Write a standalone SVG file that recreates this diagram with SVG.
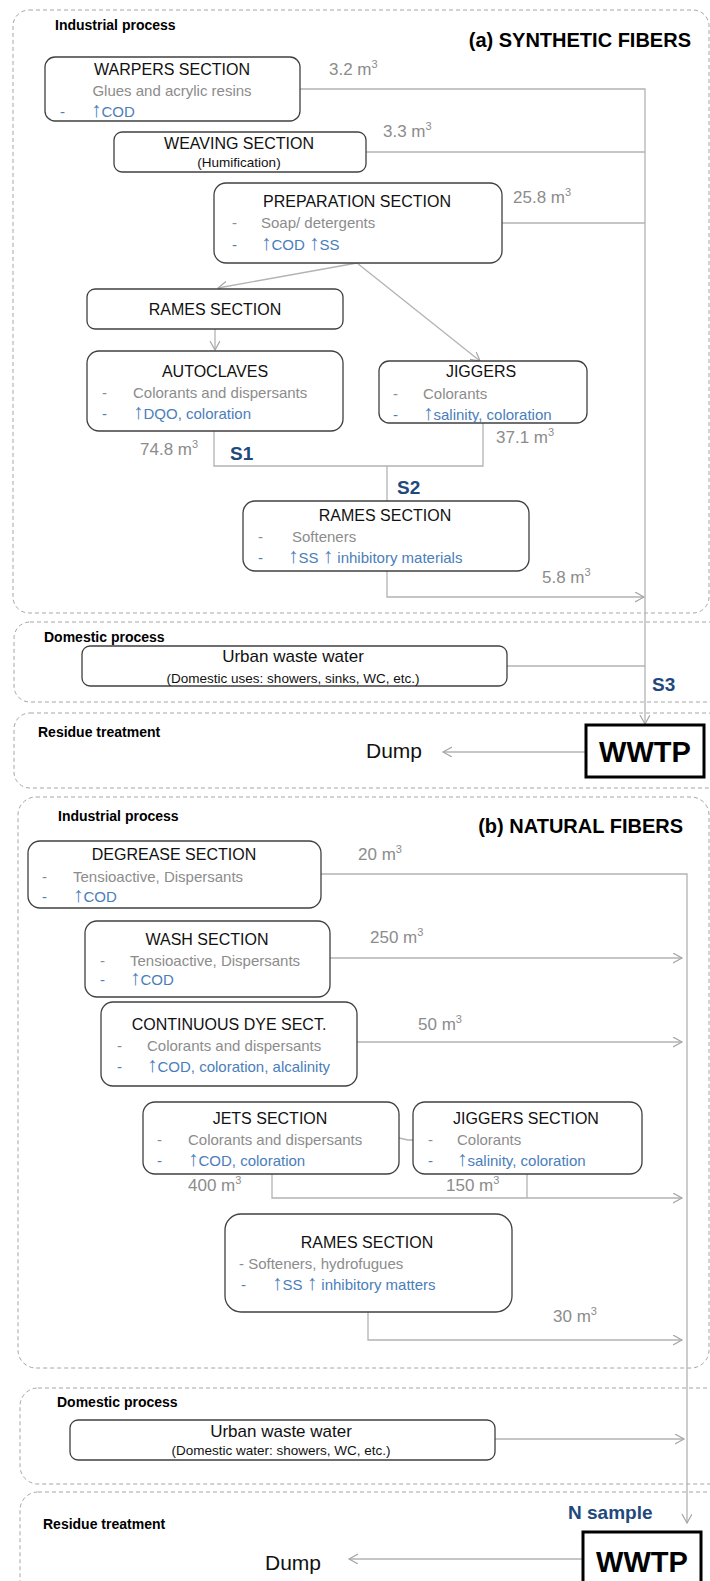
<svg xmlns="http://www.w3.org/2000/svg" width="710" height="1581" viewBox="0 0 710 1581">
<style>
text{font-family:"Liberation Sans",Arial,sans-serif}
.node rect{fill:#fff;stroke:#404040;stroke-width:1.3}
.ttl{font-size:16px;fill:#111;text-anchor:middle}
.g{font-size:15px;fill:#8c8c8c}
.b{font-size:15px;fill:#4a7ebb}
.up{font-size:21px}
.v{font-size:17px;fill:#8c8c8c}
.s{font-size:19px;font-weight:bold;fill:#1f497d}
.hdr{font-size:14px;font-weight:bold;fill:#000}
.big{font-size:20px;font-weight:bold;fill:#000;text-anchor:end}
.sub{font-size:13.5px;fill:#111;text-anchor:middle}
.uw{font-size:17px;fill:#111;text-anchor:middle}
.dump{font-size:21px;fill:#111}
.wwtp rect{fill:#fff;stroke:#000;stroke-width:3}
.wwtp text{font-size:29px;font-weight:bold;fill:#000;text-anchor:middle}
.dash{fill:none;stroke:#a6a6a6;stroke-width:1;stroke-dasharray:4 3}
.conn path{fill:none;stroke:#b3b3b3;stroke-width:1.3}
</style>
<defs>
<marker id="ah" markerUnits="userSpaceOnUse" markerWidth="12" markerHeight="12" refX="9" refY="5" orient="auto">
<path d="M0,0 L9,5 L0,10" fill="none" stroke="#a6a6a6" stroke-width="1.2"/>
</marker>
</defs>

<g id="regions">
<rect class="dash" x="13" y="10" width="696" height="603" rx="16"/>
<rect class="dash" x="14" y="622" width="710" height="80" rx="16"/>
<rect class="dash" x="14" y="713" width="710" height="75" rx="16"/>
<rect class="dash" x="18" y="797" width="691" height="571" rx="18"/>
<rect class="dash" x="20" y="1388" width="710" height="96" rx="18"/>
<rect class="dash" x="20" y="1492" width="710" height="120" rx="18"/>
<text class="hdr" x="55" y="30">Industrial process</text>
<text class="big" x="691" y="47">(a) SYNTHETIC FIBERS</text>
<text class="hdr" x="44" y="642">Domestic process</text>
<text class="hdr" x="38" y="737">Residue treatment</text>
<text class="hdr" x="58" y="821">Industrial process</text>
<text class="big" x="683" y="833">(b) NATURAL FIBERS</text>
<text class="hdr" x="57" y="1407">Domestic process</text>
<text class="hdr" x="43" y="1529">Residue treatment</text>
</g>

<g id="connectors" class="conn">
<path d="M300,89 H645 V724" marker-end="url(#ah)"/>
<path d="M366,152 H645"/>
<path d="M502,223 H645"/>
<path d="M357,263 L218,288" marker-end="url(#ah)"/>
<path d="M357,263 L480,361" marker-end="url(#ah)"/>
<path d="M215,329 V350" marker-end="url(#ah)"/>
<path d="M214,431 V466 H483 V423"/>
<path d="M387,466 V501"/>
<path d="M387,571 V597 H644" marker-end="url(#ah)"/>
<path d="M507,666 H645"/>
<path d="M586,752 H443" marker-end="url(#ah)"/>
<path d="M321,874 H687 V1523" marker-end="url(#ah)"/>
<path d="M330,958 H682" marker-end="url(#ah)"/>
<path d="M357,1042 H682" marker-end="url(#ah)"/>
<path d="M272,1174 V1198 H682" marker-end="url(#ah)"/>
<path d="M527,1174 V1198"/>
<path d="M399,1138 L408,1140 H413"/>
<path d="M368,1312 V1340 H682" marker-end="url(#ah)"/>
<path d="M495,1439 H684" marker-end="url(#ah)"/>
<path d="M583,1559 H349" marker-end="url(#ah)"/>
</g>

<g id="labels">
<text class="v" x="329" y="75">3.2 m<tspan dy="-7" font-size="11">3</tspan></text>
<text class="v" x="383" y="137">3.3 m<tspan dy="-7" font-size="11">3</tspan></text>
<text class="v" x="513" y="203">25.8 m<tspan dy="-7" font-size="11">3</tspan></text>
<text class="v" x="140" y="455">74.8 m<tspan dy="-7" font-size="11">3</tspan></text>
<text class="v" x="496" y="443">37.1 m<tspan dy="-7" font-size="11">3</tspan></text>
<text class="v" x="542" y="583">5.8 m<tspan dy="-7" font-size="11">3</tspan></text>
<text class="v" x="358" y="860">20 m<tspan dy="-7" font-size="11">3</tspan></text>
<text class="v" x="370" y="943">250 m<tspan dy="-7" font-size="11">3</tspan></text>
<text class="v" x="418" y="1030">50 m<tspan dy="-7" font-size="11">3</tspan></text>
<text class="v" x="188" y="1191">400 m<tspan dy="-7" font-size="11">3</tspan></text>
<text class="v" x="446" y="1191">150 m<tspan dy="-7" font-size="11">3</tspan></text>
<text class="v" x="553" y="1322">30 m<tspan dy="-7" font-size="11">3</tspan></text>
<text class="s" x="230" y="460">S1</text>
<text class="s" x="397" y="494">S2</text>
<text class="s" x="652" y="691">S3</text>
<text class="s" x="568" y="1519" font-size="21">N sample</text>
<text class="dump" x="366" y="758">Dump</text>
<text class="dump" x="265" y="1570">Dump</text>
</g>

<g id="warpers" class="node">
<rect x="45" y="57" width="255" height="64" rx="10"/>
<text class="ttl" x="172" y="75">WARPERS SECTION</text>
<text class="g" x="172" y="96" text-anchor="middle">Glues and acrylic resins</text>
<text class="b" x="60" y="117">-</text><text class="b" x="91" y="117"><tspan class="up">↑</tspan>COD</text>
</g>
<g id="weaving" class="node">
<rect x="114" y="132" width="252" height="40" rx="8"/>
<text class="ttl" x="239" y="149">WEAVING SECTION</text>
<text class="sub" x="239" y="167">(Humification)</text>
</g>
<g id="preparation" class="node">
<rect x="214" y="183" width="288" height="80" rx="12"/>
<text class="ttl" x="357" y="207">PREPARATION SECTION</text>
<text class="g" x="232" y="228">-</text><text class="g" x="261" y="228">Soap/ detergents</text>
<text class="b" x="232" y="250">-</text><text class="b" x="261" y="250"><tspan class="up">↑</tspan>COD <tspan class="up">↑</tspan>SS</text>
</g>
<g id="rames-a1" class="node">
<rect x="87" y="289" width="256" height="40" rx="8"/>
<text class="ttl" x="215" y="315">RAMES SECTION</text>
</g>
<g id="autoclaves" class="node">
<rect x="87" y="351" width="256" height="80" rx="12"/>
<text class="ttl" x="215" y="377">AUTOCLAVES</text>
<text class="g" x="102" y="398">-</text><text class="g" x="133" y="398">Colorants and dispersants</text>
<text class="b" x="102" y="419">-</text><text class="b" x="133" y="419"><tspan class="up">↑</tspan>DQO, coloration</text>
</g>
<g id="jiggers-a" class="node">
<rect x="379" y="361" width="208" height="62" rx="10"/>
<text class="ttl" x="481" y="377">JIGGERS</text>
<text class="g" x="393" y="399">-</text><text class="g" x="423" y="399">Colorants</text>
<text class="b" x="393" y="420">-</text><text class="b" x="423" y="420"><tspan class="up">↑</tspan>salinity, coloration</text>
</g>
<g id="rames-a2" class="node">
<rect x="243" y="501" width="286" height="70" rx="12"/>
<text class="ttl" x="385" y="521">RAMES SECTION</text>
<text class="g" x="258" y="542">-</text><text class="g" x="292" y="542">Softeners</text>
<text class="b" x="258" y="563">-</text><text class="b" x="288" y="563"><tspan class="up">↑</tspan>SS <tspan class="up">↑</tspan> inhibitory materials</text>
</g>
<g id="urban-a" class="node">
<rect x="82" y="646" width="425" height="40" rx="8"/>
<text class="uw" x="293" y="662">Urban waste water</text>
<text class="sub" x="293" y="683">(Domestic uses: showers, sinks, WC, etc.)</text>
</g>
<g id="wwtp-a" class="wwtp">
<rect x="586" y="725" width="118" height="52"/>
<text x="645" y="762">WWTP</text>
</g>

<g id="degrease" class="node">
<rect x="28" y="841" width="293" height="67" rx="12"/>
<text class="ttl" x="174" y="860">DEGREASE SECTION</text>
<text class="g" x="42" y="882">-</text><text class="g" x="73" y="882">Tensioactive, Dispersants</text>
<text class="b" x="42" y="902">-</text><text class="b" x="73" y="902"><tspan class="up">↑</tspan>COD</text>
</g>
<g id="wash" class="node">
<rect x="85" y="921" width="245" height="76" rx="12"/>
<text class="ttl" x="207" y="945">WASH SECTION</text>
<text class="g" x="100" y="966">-</text><text class="g" x="130" y="966">Tensioactive, Dispersants</text>
<text class="b" x="100" y="985">-</text><text class="b" x="130" y="985"><tspan class="up">↑</tspan>COD</text>
</g>
<g id="continuous-dye" class="node">
<rect x="101" y="1002" width="256" height="84" rx="12"/>
<text class="ttl" x="229" y="1030">CONTINUOUS DYE SECT.</text>
<text class="g" x="117" y="1051">-</text><text class="g" x="147" y="1051">Colorants and dispersants</text>
<text class="b" x="117" y="1072">-</text><text class="b" x="147" y="1072"><tspan class="up">↑</tspan>COD, coloration, alcalinity</text>
</g>
<g id="jets" class="node">
<rect x="143" y="1102" width="256" height="72" rx="12"/>
<text class="ttl" x="270" y="1124">JETS SECTION</text>
<text class="g" x="157" y="1145">-</text><text class="g" x="188" y="1145">Colorants and dispersants</text>
<text class="b" x="157" y="1166">-</text><text class="b" x="188" y="1166"><tspan class="up">↑</tspan>COD, coloration</text>
</g>
<g id="jiggers-b" class="node">
<rect x="413" y="1102" width="229" height="72" rx="12"/>
<text class="ttl" x="526" y="1124">JIGGERS SECTION</text>
<text class="g" x="428" y="1145">-</text><text class="g" x="457" y="1145">Colorants</text>
<text class="b" x="428" y="1166">-</text><text class="b" x="457" y="1166"><tspan class="up">↑</tspan>salinity, coloration</text>
</g>
<g id="rames-b" class="node">
<rect x="225" y="1214" width="287" height="98" rx="16"/>
<text class="ttl" x="367" y="1248">RAMES SECTION</text>
<text class="g" x="239" y="1269">- Softeners, hydrofugues</text>
<text class="b" x="241" y="1290">-</text><text class="b" x="272" y="1290"><tspan class="up">↑</tspan>SS <tspan class="up">↑</tspan> inhibitory matters</text>
</g>
<g id="urban-b" class="node">
<rect x="70" y="1420" width="425" height="40" rx="8"/>
<text class="uw" x="281" y="1437">Urban waste water</text>
<text class="sub" x="281" y="1455">(Domestic water: showers, WC, etc.)</text>
</g>
<g id="wwtp-b" class="wwtp">
<rect x="583" y="1532" width="118" height="60"/>
<text x="642" y="1572">WWTP</text>
</g>
</svg>
